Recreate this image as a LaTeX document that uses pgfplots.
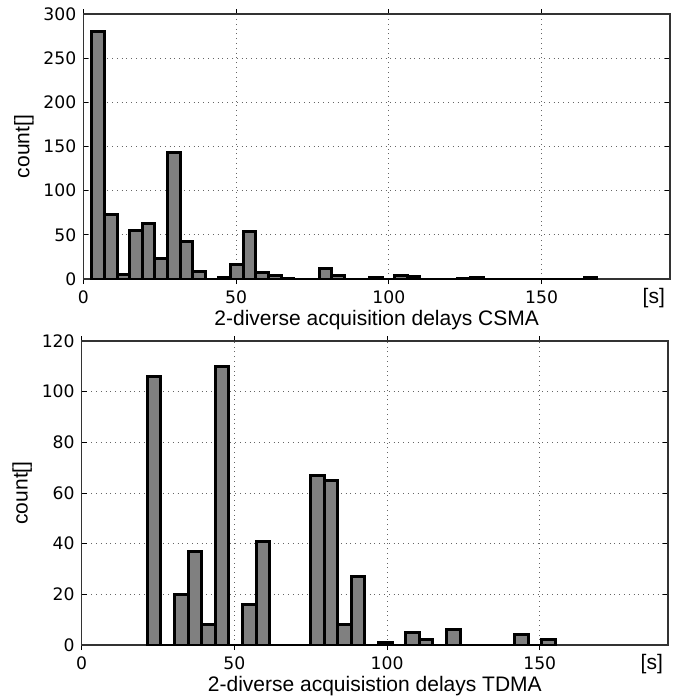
\documentclass[border=0pt]{standalone}
\usepackage{fontspec}
\setmainfont{DejaVu Sans}
\newfontfamily\labfont{Liberation Sans}
\usepackage{pgfplots}
\pgfplotsset{compat=1.18}

\pgfplotsset{
  histo/.style={
    scale only axis,
    anchor=south west,
    clip mode=individual,
    xmin=0, xmax=192, ymin=0,
    xtick={0,50,100,150},
    grid=major,
    grid style={black!60, dotted, line width=0.5pt},
    axis line style={black!80, line width=0.6pt},
    tick align=inside,
    tick pos=both,
    major tick length=2.5pt,
    tick style={black, line width=0.5pt},
    ticklabel style={font=\fontsize{8.6}{10}\selectfont},
    label style={font=\labfont\fontsize{10.5}{12}\selectfont},
    xlabel style={yshift=4pt},
    ylabel style={yshift=-2pt},
    /pgf/number format/assume math mode=true,
    ybar, bar shift=0pt,
  },
  hbar/.style={fill=black!50, draw=black, line width=1.5pt},
}

\begin{document}
\begin{tikzpicture}
\path[use as bounding box] (0,0) rectangle (339pt,349pt);

% CSMA
\begin{axis}[histo,
  at={(41.65pt,209.5pt)}, width=293.35pt, height=132.5pt,
  ymax=300, ytick={0,50,100,150,200,250,300},
  bar width=4.13,
  ylabel={count[]},
  xlabel={2-diverse acquisition delays CSMA},
]
\addplot[hbar] coordinates {
  (4.87,280) (9.00,73) (13.13,5) (17.26,55) (21.39,63) (25.52,23)
  (29.65,143) (33.78,42) (37.91,9) (42.04,0) (46.17,2) (50.30,16)
  (54.43,54) (58.56,7) (62.69,4) (66.82,1) (70.95,0) (75.08,0)
  (79.21,12) (83.34,4) (87.47,0) (91.60,0) (95.73,2) (99.86,0)
  (103.99,4) (108.12,3) (112.25,0) (116.38,0) (120.51,0) (124.64,1)
  (128.77,2) (132.90,0) (137.03,0) (141.16,0) (145.29,0) (149.42,0)
  (153.55,0) (157.68,0) (161.81,0) (165.94,2)
};
\node[anchor=north, font=\labfont\fontsize{10.5}{12}\selectfont, yshift=-1pt] at (axis cs:186.7,0) {[s]};
\end{axis}

% TDMA
\begin{axis}[histo,
  at={(40.85pt,26.5pt)}, width=293.15pt, height=152pt,
  ymax=120, ytick={0,20,40,60,80,100,120},
  bar width=4.453,
  ylabel={count[]},
  xlabel={2-diverse acquisistion delays TDMA},
]
\addplot[hbar] coordinates {
  (23.73,106) (28.18,0) (32.64,20) (37.09,37) (41.54,8) (46.00,110)
  (50.45,0) (54.90,16) (59.35,41) (63.81,0) (68.26,0) (72.71,0)
  (77.17,67) (81.62,65) (86.07,8) (90.53,27) (94.98,0) (99.43,1)
  (103.88,0) (108.34,5) (112.79,2) (117.24,0) (121.70,6) (126.15,0)
  (130.60,0) (135.06,0) (139.51,0) (143.96,4) (148.41,0) (152.87,2)
};
\node[anchor=north, font=\labfont\fontsize{10.5}{12}\selectfont, yshift=-1pt] at (axis cs:186.7,0) {[s]};
\end{axis}
\end{tikzpicture}
\end{document}
